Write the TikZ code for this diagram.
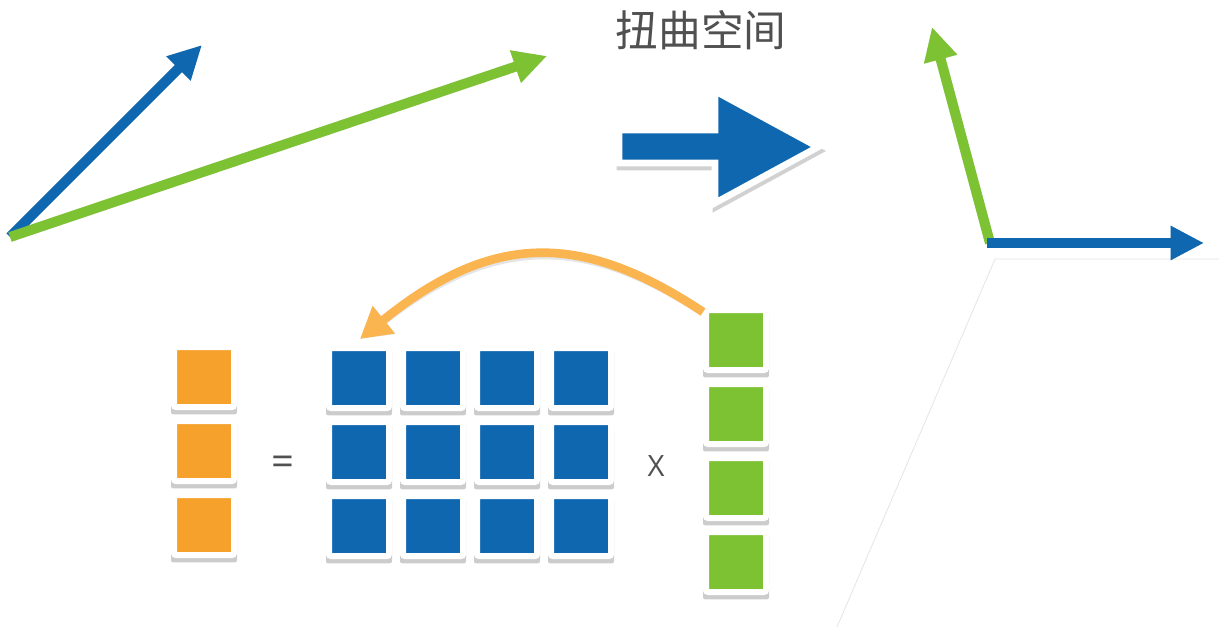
\documentclass[tikz,border=0pt]{standalone}
\usepackage{fontspec}
\setmainfont{Open Sans}
\newfontfamily\cjk{Noto Sans CJK SC}
\usetikzlibrary{arrows.meta,shadows}
\definecolor{vblue}{HTML}{0E67AF}
\definecolor{vgreen}{HTML}{7DC233}
\definecolor{vorange}{HTML}{F5A12B}
\definecolor{varrow}{HTML}{FAB550}
\definecolor{vtext}{HTML}{505050}
\begin{document}
\begin{tikzpicture}[x=0.75pt,y=-0.75pt,
  cell/.style={minimum size=45pt,inner sep=0pt,draw=white,line width=4.5pt,rounded corners=1.5pt,
    drop shadow={shadow xshift=0pt,shadow yshift=-3pt,shadow scale=1.1,fill=black,opacity=0.2}},
  ocell/.style={cell,fill=vorange},
  bcell/.style={cell,fill=vblue},
  gcell/.style={cell,fill=vgreen},
  vec/.style={line width=7.5pt,-{Triangle[length=25pt,width=24pt]}},
  vshadow/.style={vec,draw=black,opacity=0.1,shift={(2,3)}},
  lbl/.style={text=vtext,inner sep=0pt}]
\useasboundingbox (0,0) rectangle (1219,627);
\fill[white] (0,0) rectangle (1219,627);

% faint guide lines
\coordinate (g0) at (995,259);
\coordinate (g1) at (837,627);
\coordinate (g2) at (1219,259);
\draw[black!10,line width=0.6pt] (g1) -- (g0) -- (g2);

% left vectors
\coordinate (o1) at (10,237);
\coordinate (b1) at (202,45);
\coordinate (gr1) at (547,56);
\draw[vshadow] (o1) -- (b1);
\draw[vshadow] (o1) -- (gr1);
\draw[vec,vblue] (o1) -- (b1);
\draw[vec,vgreen] (o1) -- (gr1);

% right vectors
\coordinate (o2) at (990,243);
\coordinate (gr2) at (932,27);
\coordinate (o3) at (987,243);
\coordinate (b2) at (1204,243);
\draw[vshadow] (o2) -- (gr2);
\draw[vshadow] (o3) -- (b2);
\draw[vec,vgreen] (o2) -- (gr2);
\draw[vec,vblue] (o3) -- (b2);

% title
\node[lbl,font=\cjk\fontsize{32pt}{36pt}\selectfont] (title) at (701,30) {扭曲空间};

% block arrow
\begin{scope}[transparency group,opacity=0.18,shift={(1,4)}]
\draw[fill=black,draw=black,line width=5pt,line join=miter]
  (619,130) -- (715,130) -- (715,91) -- (818,147) -- (715,203) -- (715,163) -- (619,163) -- cycle;
\end{scope}
\draw[fill=vblue,draw=white,line width=5pt,line join=miter]
  (619,130) -- (715,130) -- (715,91) -- (818,147) -- (715,203) -- (715,163) -- (619,163) -- cycle;

% orange column
\foreach \r/\y in {1/377,2/451,3/525}{
  \node[ocell] (o\r) at (204,\y) {};
}
% blue matrix
\foreach \r/\y in {1/378,2/452,3/526}{
  \foreach \c/\x in {1/359,2/433,3/507,4/581}{
    \node[bcell] (m\r\c) at (\x,\y) {};
  }
}
% green column
\foreach \r/\y in {1/340,2/414,3/488,4/562}{
  \node[gcell] (v\r) at (736,\y) {};
}

\node[lbl,font=\fontsize{30pt}{32pt}\selectfont] (eq) at (283,466) {=};
\node[lbl,font=\fontsize{22pt}{26pt}\selectfont] (times) at (656,466) {X};

% curved arrow
\coordinate (cs) at (703,312);
\coordinate (ce) at (360,339);
\draw[line width=6.5pt,black,opacity=0.1,shift={(2,3)},-{Triangle[length=23pt,width=25pt]}]
  (cs) .. controls (584,233) and (494,230) .. (ce);
\draw[line width=6.5pt,varrow,-{Triangle[length=23pt,width=25pt]}]
  (cs) .. controls (584,233) and (494,230) .. (ce);
\end{tikzpicture}
\end{document}
